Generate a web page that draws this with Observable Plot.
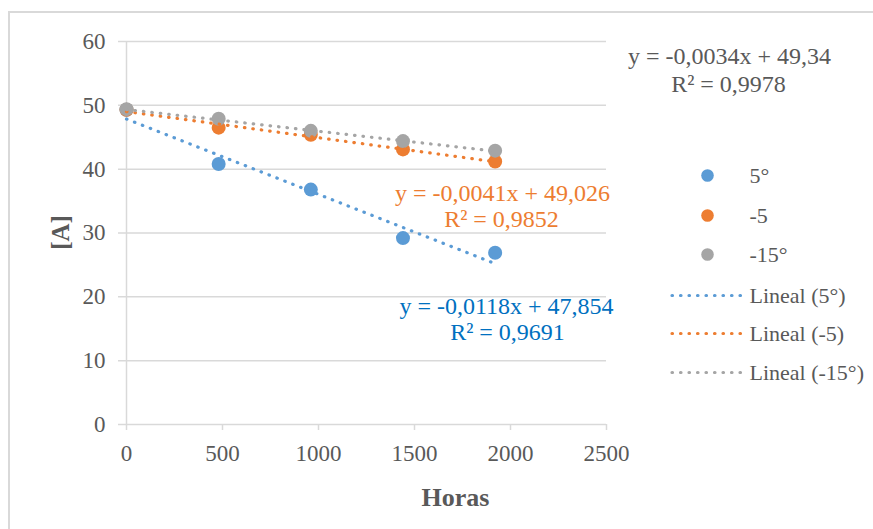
<!DOCTYPE html>
<html><head><meta charset="utf-8">
<script src="https://cdn.jsdelivr.net/npm/d3@7"></script>
<script src="https://cdn.jsdelivr.net/npm/@observablehq/plot@0.6"></script>
<style>
body{margin:0;background:#fff;}
#wrap{position:relative;width:873px;height:529px;overflow:hidden;background:#fff;}
#frame{position:absolute;left:8px;top:11px;width:900px;height:600px;border:2px solid #d9d9d9;box-sizing:border-box;}
#chart{position:absolute;left:0;top:0;}
#chart svg, #chart svg text, #chart svg tspan{font-family:'Liberation Serif','Times New Roman',serif !important;}
</style></head><body>
<div id="wrap"><div id="frame"></div><div id="chart"></div></div>
<script>
// ---- data ----
const hours = [0, 480, 960, 1440, 1920];
const seriesNames = ["5°", "-5", "-15°"];
const values5 = [49.3, 40.8, 36.8, 29.2, 26.9];
const valuesM5 = [49.3, 46.5, 45.4, 43.1, 41.2];
const valuesM15 = [49.4, 47.9, 46.0, 44.4, 42.9];
const colors = ["#5b9bd5", "#ed7d31", "#a5a5a5"];
const trendSlopes = [-0.0118, -0.0041, -0.0034];
const trendIntercepts = [47.854, 49.026, 49.34];
const eqTexts = ["y = -0,0118x + 47,854", "y = -0,0041x + 49,026", "y = -0,0034x + 49,34"];
const r2Texts = ["R² = 0,9691", "R² = 0,9852", "R² = 0,9978"];
const eqColors = ["#0070c0", "#ed7d31", "#595959"];
const trendNames = ["Lineal (5°)", "Lineal (-5)", "Lineal (-15°)"];
const xTicks = [0, 500, 1000, 1500, 2000, 2500];
const yTicks = [0, 10, 20, 30, 40, 50, 60];
const xTitle = "Horas";
const yTitle = "[A]";

// ---- layout ----
const W = 873, H = 529, mL = 126, mR = 267, mT = 41, mB = 105;
const xMax = 2500, yMax = 60;
const px2x = p => (p - mL) / (W - mL - mR) * xMax;
const px2y = p => (H - mB - p) / (H - mB - mT) * yMax;

const allValues = [values5, valuesM5, valuesM15];
const table = seriesNames.flatMap((s, i) => hours.map((h, j) => ({series: s, i, hours: h, value: allValues[i][j]})));
const trendTable = seriesNames.flatMap((s, i) => [hours[0], hours[hours.length - 1]].map(h => ({series: s, i, hours: h, value: trendIntercepts[i] + trendSlopes[i] * h})));

const font = "Liberation Serif";
const grid = "#d9d9d9";
const textCol = "#595959";
const dotted = {strokeWidth: 3.2, strokeDasharray: "0.5,8", strokeLinecap: "round"};

const eqPos = [[506, 305.5, 507, 332], [502, 193, 501, 218.5], [729, 56, 728, 84]];
const legDotY = [175, 215, 254];
const legLineY = [295, 333, 372];

const marks = [
  Plot.ruleY(yTicks, {x1: px2x(118), x2: xMax, stroke: grid, strokeWidth: 1.5}),
  Plot.ruleX(xTicks, {y1: 0, y2: px2y(430), stroke: grid, strokeWidth: 1.5}),
  Plot.ruleX([0], {y1: 0, y2: yMax, stroke: grid, strokeWidth: 1.5}),
  Plot.axisY({ticks: yTicks, tickSize: 0, tickPadding: 21, fontSize: 23, fill: textCol, label: null, tickFormat: d => String(d), fontFamily: font}),
  Plot.axisX({ticks: xTicks, tickSize: 0, tickPadding: 20, fontSize: 23, fill: textCol, label: null, tickFormat: d => String(d), fontFamily: font}),
];
seriesNames.forEach((s, i) => {
  marks.push(Plot.dot(table.filter(d => d.i === i), {x: "hours", y: "value", r: 7, fill: colors[i], stroke: "none"}));
});
seriesNames.forEach((s, i) => {
  marks.push(Plot.line(trendTable.filter(d => d.i === i), {x: "hours", y: "value", stroke: colors[i], ...dotted}));
  const p = eqPos[i];
  marks.push(Plot.text([eqTexts[i]], {x: px2x(p[0]), y: px2y(p[1]), text: d => d, fill: eqColors[i], fontSize: 24, textAnchor: "middle", fontFamily: font}));
  marks.push(Plot.text([r2Texts[i]], {x: px2x(p[2]), y: px2y(p[3]), text: d => d, fill: eqColors[i], fontSize: 24, textAnchor: "middle", fontFamily: font}));
  // legend
  marks.push(Plot.dot([s], {x: px2x(707), y: px2y(legDotY[i]), r: 6.3, fill: colors[i], stroke: "none"}));
  marks.push(Plot.text([s], {x: px2x(749), y: px2y(legDotY[i]), text: d => d, fill: textCol, fontSize: 22, textAnchor: "start", fontFamily: font}));
  marks.push(Plot.ruleY([trendNames[i]], {y: px2y(legLineY[i]), x1: px2x(672), x2: px2x(742), stroke: colors[i], ...dotted}));
  marks.push(Plot.text([trendNames[i]], {x: px2x(749), y: px2y(legLineY[i]), text: d => d, fill: textCol, fontSize: 22, textAnchor: "start", fontFamily: font}));
});
marks.push(Plot.text([xTitle], {x: px2x(455), y: px2y(497), text: d => d, fill: textCol, fontSize: 26, fontWeight: "bold", textAnchor: "middle", fontFamily: font}));
marks.push(Plot.text([yTitle], {x: px2x(60), y: px2y(232), text: d => d, fill: textCol, fontSize: 25, fontWeight: "bold", textAnchor: "middle", rotate: -90, fontFamily: font}));

const chart = Plot.plot({
  width: W, height: H,
  marginLeft: mL, marginRight: mR, marginTop: mT, marginBottom: mB,
  x: {domain: [0, xMax]},
  y: {domain: [0, yMax]},
  style: {fontFamily: font, background: "none", overflow: "visible"},
  marks
});
document.getElementById("chart").appendChild(chart);
</script>
</body></html>
